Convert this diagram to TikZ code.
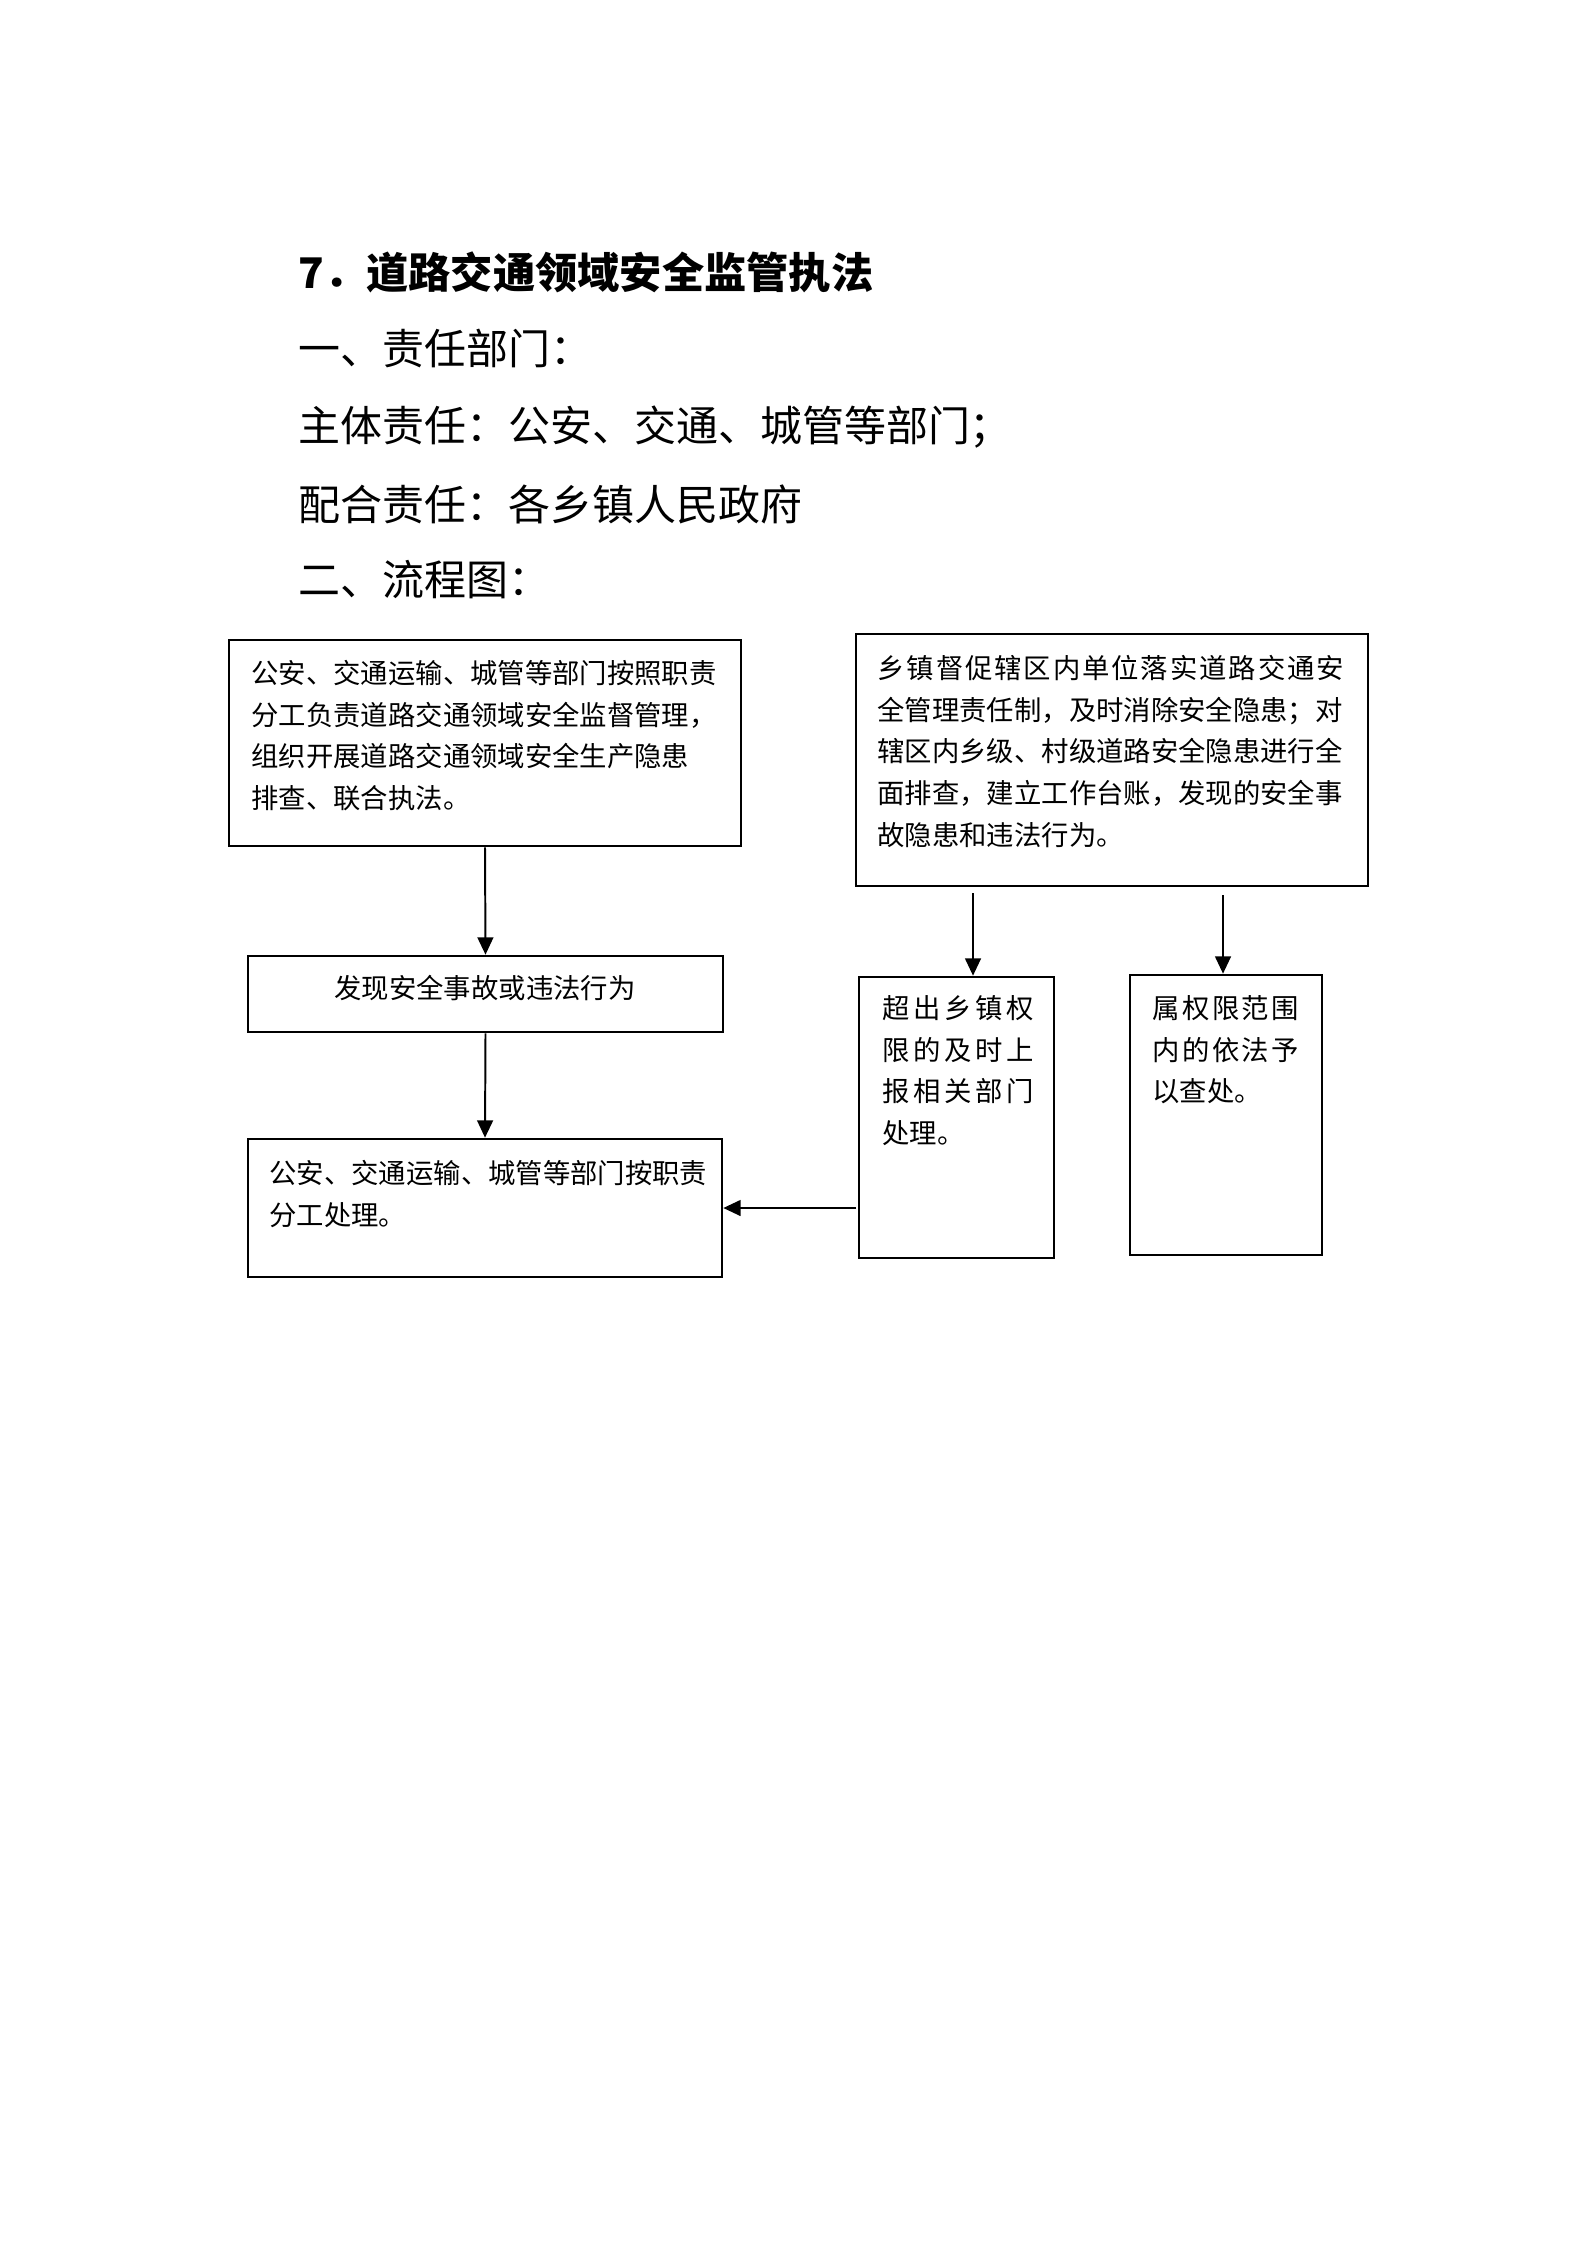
\documentclass[tikz,border=0pt]{standalone}
\usepackage{fontspec}
\newfontfamily\cjk{Noto Sans CJK SC}
\newcommand\widechars[2]{{\addfontfeature{LetterSpace=#1}#2}}
\usetikzlibrary{arrows.meta,fit,positioning}
\tikzset{
    flow box/.style = {
        draw,
        line width=0.35mm,
        inner sep=0pt,
        },
    box text/.style = {
        anchor=north west,
        align=left,
        inner sep=0pt,
        font=\cjk\fontsize{10.3}{15.65}\selectfont,
        },
    flow arrow/.style = {
        line width=0.26mm,
        -{Triangle[length=2.3mm,width=2.1mm]},
        },
    heading/.style = {
        anchor=west,
        inner sep=0pt,
        font=\cjk\fontsize{15.8}{18}\selectfont,
        },
    title text/.style = {
        heading,
        font=\cjk\bfseries\fontsize{15.9}{18}\selectfont,
        },
}

\begin{document}
\begin{tikzpicture}[x=0.132325mm, y=-0.132325mm]
            \path[fill=white, use as bounding box] (0,0) rectangle (1587,2245);

            \node[title text] (title) at (298,272) {7．道路交通领域安全监管执法};
            \node[heading] (dept) at (298,349) {一、责任部门：};
            \node[heading] (main) at (298,427) {主体责任：公安、交通、城管等部门；};
            \node[heading] (assist) at (298,504) {配合责任：各乡镇人民政府};
            \node[heading] (chart) at (298,580) {二、流程图：};

            \node[flow box, fit={(229,640) (741,846)}] (boxA) {};
            \node[flow box, fit={(248,956) (723,1032)}] (boxB) {};
            \node[flow box, fit={(248,1139) (722,1277)}] (boxC) {};
            \node[flow box, fit={(856,634) (1368,886)}] (boxD) {};
            \node[flow box, fit={(859,977) (1054,1258)}] (boxE) {};
            \node[flow box, fit={(1130,975) (1322,1255)}] (boxF) {};

            \node[box text] (textA) at (251,660) {公安、交通运输、城管等部门按照职责\\分工负责道路交通领域安全监督管理，\\组织开展道路交通领域安全生产隐患\\排查、联合执法。};
            \node[box text, anchor=center] (textB) at (485,988) {发现安全事故或违法行为};
            \node[box text] (textC) at (269,1160) {公安、交通运输、城管等部门按职责\\分工处理。};
            \node[box text] (textD) at (877,655) {\widechars{7}{乡镇督促辖区内单位落实道路交通安}\\全管理责任制，及时消除安全隐患；对\\辖区内乡级、村级道路安全隐患进行全\\面排查，建立工作台账，发现的安全事\\故隐患和违法行为。};
            \node[box text] (textE) at (882,995) {\widechars{13}{超出乡镇权}\\\widechars{13}{限的及时上}\\\widechars{13}{报相关部门}\\处理。};
            \node[box text] (textF) at (1152,995) {\widechars{9}{属权限范围}\\\widechars{9}{内的依法予}\\以查处。};

            \coordinate (fromD1) at (973,893);
            \coordinate (fromD2) at (1223,895);
            \coordinate (fromE) at (856,1208);

            \draw[flow arrow] (boxA.south) -- (boxB.north);
            \draw[flow arrow] (boxB.south) -- (boxC.north);
            \draw[flow arrow] (fromD1) -- (fromD1 |- boxE.north);
            \draw[flow arrow] (fromD2) -- (fromD2 |- boxF.north);
            \draw[flow arrow] (fromE) -- (fromE -| boxC.east);
        \end{tikzpicture}
\end{document}
